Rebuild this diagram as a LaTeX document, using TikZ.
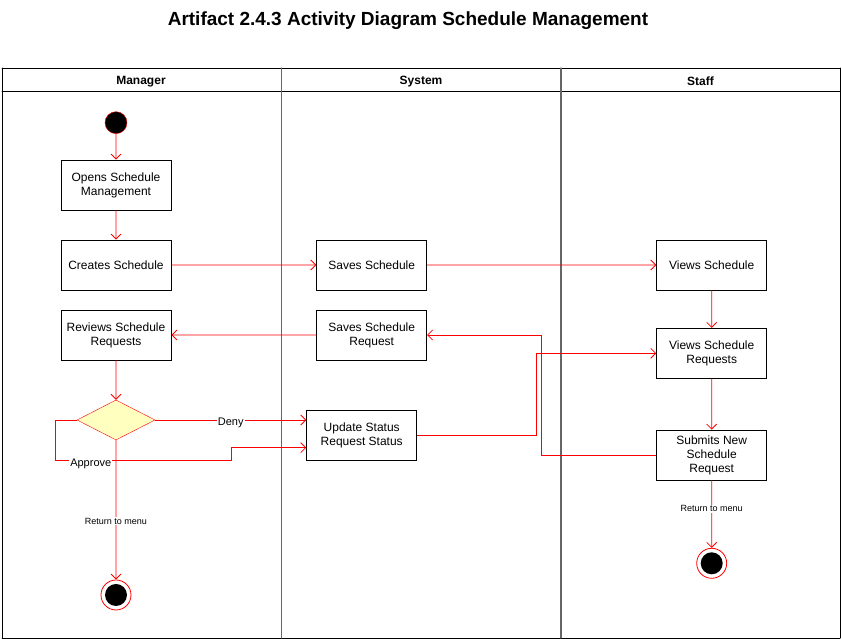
\documentclass[tikz,border=0pt]{standalone}
\usepackage{fontspec}
\setmainfont{Liberation Sans}
\usepackage{tkz-euclide}
\usetikzlibrary{shapes.geometric,arrows.meta}
\definecolor{notepaper}{HTML}{FFFFC0}

\begin{document}
\begin{tikzpicture}[scale=0.35146,
	box style/.style={draw, line width=0.8pt, minimum width=110pt, minimum height=50pt, inner sep=1pt, align=center, font=\fontsize{12}{14}\selectfont},
	flow style/.style={draw=red, line width=0.8pt, -{Straight Barb[length=5pt,width=10pt]}},
	start style/.style={circle, draw=red, fill=black, minimum size=22pt, inner sep=0pt},
	stop style/.style={circle, draw=red, fill=white, line width=0.8pt, minimum size=30pt, inner sep=0pt, path picture={\fill[black] (path picture bounding box.center) circle (11pt);}},
	choice style/.style={diamond, aspect=1.95, draw=red, fill=notepaper, minimum width=78pt, minimum height=40pt, inner sep=0pt},
	lane style/.style={font=\bfseries\fontsize{12}{14}\selectfont},
	guard style/.style={fill=white, inner sep=1pt, font=\fontsize{11}{13}\selectfont},
	menu style/.style={fill=white, inner sep=1pt, font=\fontsize{9}{11}\selectfont}]
	\tkzInit [ymin=0,ymax=63.9,xmin=0,xmax=84.1]
	\tkzClip
	\tkzDefPoint(0.2,57.1){a}
	\tkzDefPoint(84.0,57.1){b}
	\tkzDefPoint(84.0,0.1){c}
	\tkzDefPoint(0.2,0.1){d}
	\tkzDefPoint(0.2,54.75){e}
	\tkzDefPoint(84.0,54.75){f}
	\tkzDefPoint(28.15,57.1){g}
	\tkzDefPoint(28.15,0.1){h}
	\tkzDefPoint(56.1,57.1){i}
	\tkzDefPoint(56.1,0.1){j}
	\tkzDrawSegments[black, line width=0.8pt](a,b b,c c,d d,a e,f)
	\tkzDrawSegments[black!60, line width=1.2pt](g,h i,j)
	\node[font=\bfseries\fontsize{19}{23}\selectfont] (title) at (40.8,61.8) {Artifact 2.4.3 Activity Diagram Schedule Management};
	\node[lane style] (manager) at (14.1,55.75) {Manager};
	\node[lane style] (system) at (42.1,55.75) {System};
	\node[lane style] (staff) at (70.05,55.75) {Staff};
	\node[start style] (init) at (11.6,51.63) {};
	\node[box style] (open) at (11.6,45.4) {Opens Schedule\\Management};
	\node[box style] (make) at (11.6,37.4) {Creates Schedule};
	\node[box style] (review) at (11.6,30.4) {Reviews Schedule\\Requests};
	\node[choice style] (check) at (11.6,21.9) {};
	\node[stop style] (stopa) at (11.6,4.4) {};
	\node[box style] (save) at (37.17,37.4) {Saves Schedule};
	\node[box style] (saveq) at (37.17,30.4) {Saves Schedule\\Request};
	\node[box style] (update) at (36.17,20.4) {Update Status\\Request Status};
	\node[box style] (view) at (71.17,37.4) {Views Schedule};
	\node[box style] (viewq) at (71.17,28.57) {Views Schedule\\Requests};
	\node[box style] (submit) at (71.17,18.4) {Submits New\\Schedule\\Request};
	\node[stop style] (stopb) at (71.17,7.57) {};
	\coordinate (bend a) at (5.57,17.9);
	\coordinate (bend b) at (23.1,19.13);
	\coordinate (bend c) at (54.17,30.4);
	\coordinate (bend d) at (53.63,28.57);
	\draw[flow style] (init) -- (open);
	\draw[flow style] (open) -- (make);
	\draw[flow style] (make) -- (save);
	\draw[flow style] (save) -- (view);
	\draw[flow style] (view) -- (viewq);
	\draw[flow style] (viewq) -- (submit);
	\draw[flow style] (submit.west) -| (bend c) -- (saveq.east);
	\draw[flow style] (saveq) -- (review);
	\draw[flow style] (review) -- (check);
	\draw[flow style] (check.east) -- node[guard style, yshift=-3pt]{Deny} (update.west |- check.east);
	\draw[flow style] (check.west) -| (bend a) -| node[guard style, pos=0.1, yshift=-4pt]{Approve} (bend b) -- (update.west |- bend b);
	\draw[flow style] (update.east) -| (bend d) -- (viewq.west);
	\draw[flow style] (check) -- node[menu style, pos=0.58]{Return to menu} (stopa);
	\draw[flow style] (submit) -- node[menu style, pos=0.42]{Return to menu} (stopb);
\end{tikzpicture}
\end{document}
